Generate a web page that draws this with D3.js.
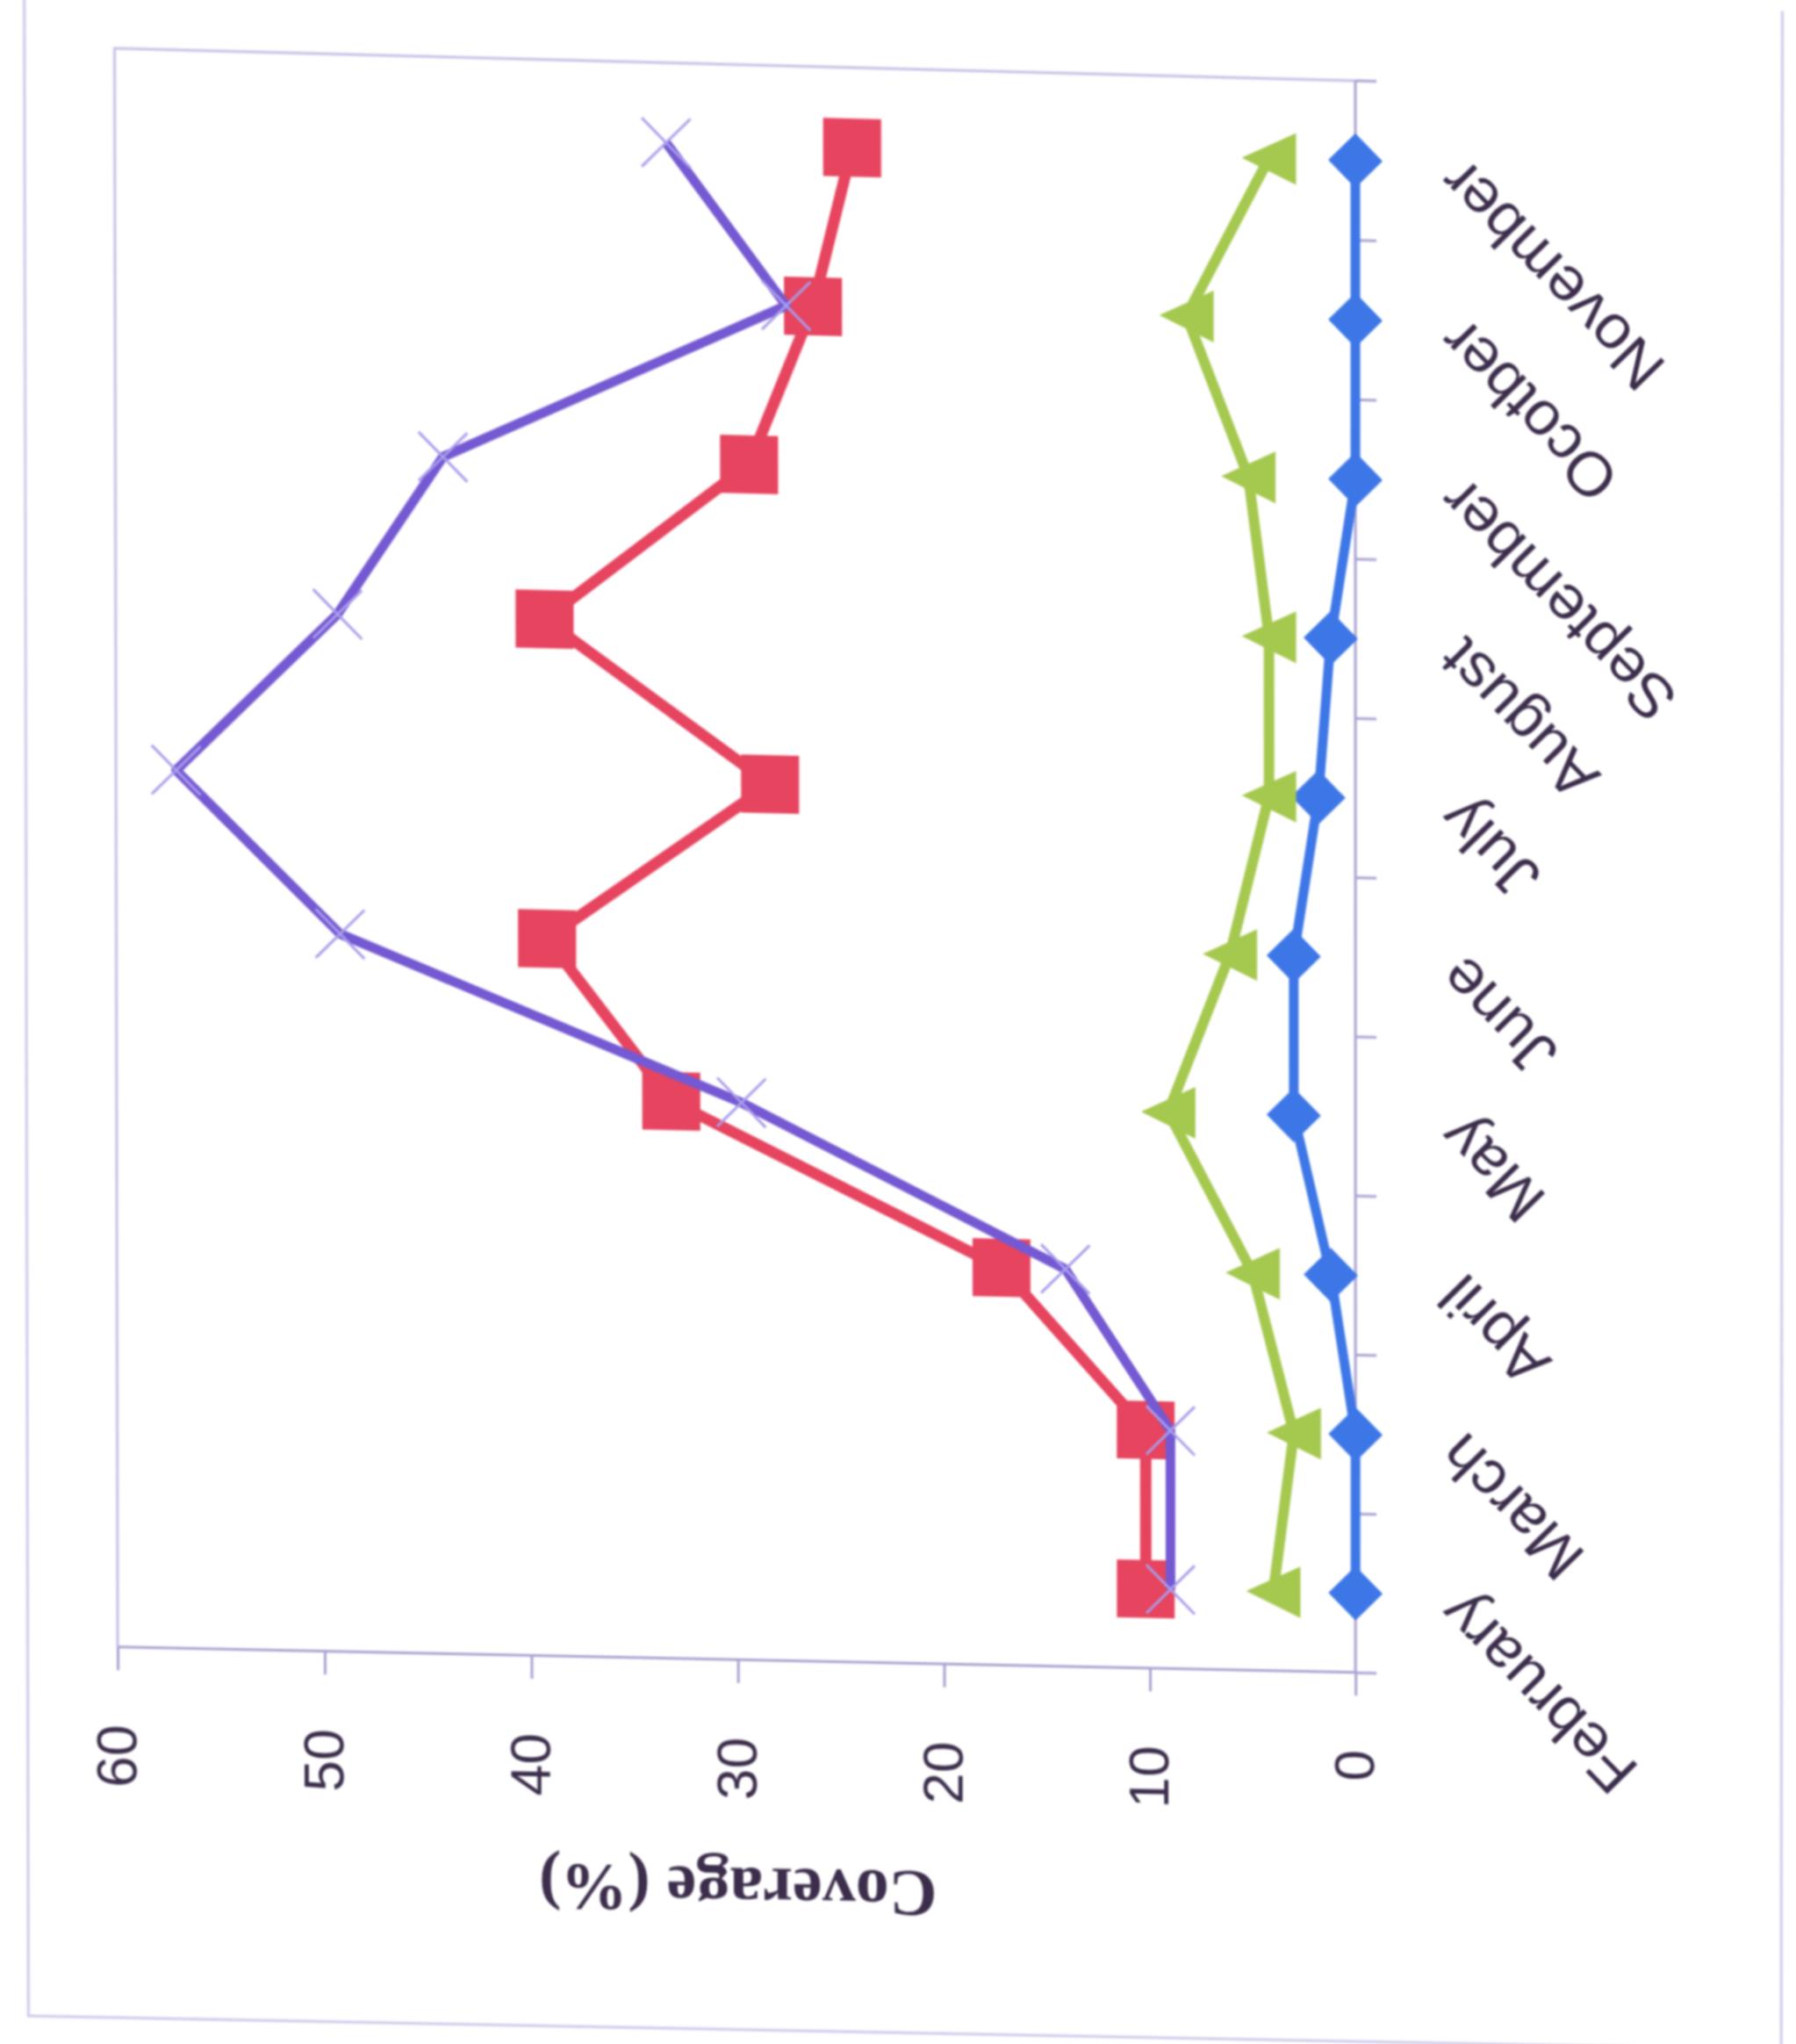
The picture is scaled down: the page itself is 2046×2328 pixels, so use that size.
<!DOCTYPE html>
<html>
<head>
<meta charset="utf-8">
<script src="https://cdn.jsdelivr.net/npm/d3@7"></script>
<style>
  html, body { margin: 0; padding: 0; background: #ffffff; }
  svg { display: block; transform-origin: 0 0; filter: blur(1.1px); }
</style>
</head>
<body>
<svg id="chart" width="2046" height="2328"></svg>
<script>
// Monthly coverage, four series
const months = ["February", "March", "April", "May", "June", "July", "August", "September", "Ocotber", "November"];
const valueTicks = [0, 10, 20, 30, 40, 50, 60];
const blueSeries   = [0, 0, 1.2, 3.0, 3.0, 1.8, 1.2, 0, 0, 0];
const redSeries    = [10.2, 10.2, 17.2, 33.2, 39.2, 28.4, 39.3, 29.4, 26.3, 24.4];
const greenSeries  = [4.0, 3.0, 5.0, 9.1, 6.1, 4.2, 4.2, 5.2, 8.2, 4.2];
const purpleSeries = [9.0, 9.0, 14.1, 29.8, 49.2, 57.1, 49.3, 44.2, 27.6, 33.4];
const axisTitle = "Coverage (%)";

const svg = d3.select("#chart");

// Plot size in the chart's own (months across, values up) frame
const W = 1813, H = 1410;
const x = d3.scaleBand().domain(months).range([0, W]);
const y = d3.scaleLinear().domain([0, 60]).range([H, 0]);
const cx = d => x(d) + x.bandwidth() / 2;

const textColor = "#3b2d4b";
const axisColor = "#a9a2d2";
const frameColor = "#c4bfe6";

// Chart area border
svg.append("rect")
  .attr("x", 32).attr("y", -60)
  .attr("width", 2000).attr("height", 2386)
  .attr("fill", "none").attr("stroke", "#cdc8ea").attr("stroke-width", 3);

// The chart is laid out sideways: months run upward, values run leftward
const g = svg.append("g").attr("transform", "translate(134,1905) rotate(-90)");

// Plot area border (the two sides without axes)
g.append("path")
  .attr("d", `M0,0L${W},0L${W},${H}`)
  .attr("fill", "none").attr("stroke", frameColor).attr("stroke-width", 3);

// Value axis
const yAxis = g.append("g")
  .call(d3.axisLeft(y).tickValues(valueTicks).tickSize(26).tickSizeOuter(0).tickPadding(62));
yAxis.select(".domain").attr("stroke", axisColor).attr("stroke-width", 3);
yAxis.selectAll(".tick line").attr("stroke", axisColor).attr("stroke-width", 3);
yAxis.selectAll(".tick text")
  .attr("fill", textColor)
  .style("font-family", "'Liberation Sans', Arial, sans-serif")
  .style("font-size", "64px");

// Category axis: line, tick marks between months, slanted labels
const xAxis = g.append("g").attr("transform", `translate(0,${H})`);
xAxis.append("line")
  .attr("x1", 0).attr("x2", W)
  .attr("stroke", axisColor).attr("stroke-width", 3);
const bounds = months.map(m => x(m)).concat([x.range()[1]]);
xAxis.selectAll("line.tick")
  .data(bounds)
  .join("line")
  .attr("class", "tick")
  .attr("x1", d => d).attr("x2", d => d)
  .attr("y1", 0).attr("y2", 24)
  .attr("stroke", axisColor).attr("stroke-width", 3);
xAxis.selectAll("text.month")
  .data(months)
  .join("text")
  .attr("class", "month")
  .attr("transform", d => `translate(${cx(d) + 8},${126}) rotate(-45)`)
  .attr("text-anchor", "end")
  .attr("fill", textColor)
  .style("font-family", "'Liberation Sans', Arial, sans-serif")
  .style("font-size", "71px")
  .text(d => d);

// Value axis title
g.append("text")
  .attr("transform", `translate(-262,${H / 2}) rotate(-90)`)
  .attr("text-anchor", "middle")
  .attr("dominant-baseline", "central")
  .attr("fill", textColor)
  .style("font-family", "'Liberation Serif', 'Times New Roman', serif")
  .style("font-weight", "bold")
  .style("font-size", "76px")
  .text(axisTitle);

// Marker shapes
const diamond = { draw(ctx, size) { const r = Math.sqrt(size) / 2; ctx.moveTo(0, -r); ctx.lineTo(r, 0); ctx.lineTo(0, r); ctx.lineTo(-r, 0); ctx.closePath(); } };
const triangle = { draw(ctx, size) { const h = Math.sqrt(size) / 2; const b = h * 0.95; ctx.moveTo(0, -h); ctx.lineTo(b, h); ctx.lineTo(-b, h); ctx.closePath(); } };

const line = d3.line().x((d, i) => cx(months[i])).y(d => y(d));

const series = [
  { values: blueSeries,   color: "#3d77e7", width: 11, symbol: d3.symbol(diamond, 62 * 62), fill: true },
  { values: redSeries,    color: "#e6445f", width: 13, symbol: d3.symbol(d3.symbolSquare, 66 * 66), fill: true },
  { values: greenSeries,  color: "#a5c84e", width: 12, symbol: d3.symbol(triangle, 62 * 62), fill: true },
  { values: purpleSeries, color: "#7559d2", width: 11, symbol: d3.symbol(d3.symbolX, 2000), fill: false, markColor: "#a99dec" }
];

series.forEach(s => {
  const sg = g.append("g");
  sg.append("path")
    .attr("d", line(s.values))
    .attr("fill", "none")
    .attr("stroke", s.color)
    .attr("stroke-width", s.width)
    .attr("stroke-linejoin", "round");
  sg.selectAll("path.mark")
    .data(s.values)
    .join("path")
    .attr("class", "mark")
    .attr("transform", (d, i) => `translate(${cx(months[i])},${y(d)})`)
    .attr("d", s.symbol())
    .attr("fill", s.fill ? s.color : "none")
    .attr("stroke", s.fill ? "none" : s.markColor)
    .attr("stroke-width", s.fill ? 0 : 3);
});

// Slight page tilt: projective map from the flat layout onto the sheet
function solve(A, b) {
  const n = b.length;
  const M = A.map((row, i) => row.concat([b[i]]));
  for (let c = 0; c < n; c++) {
    let p = c;
    for (let r = c + 1; r < n; r++) if (Math.abs(M[r][c]) > Math.abs(M[p][c])) p = r;
    [M[c], M[p]] = [M[p], M[c]];
    for (let r = 0; r < n; r++) {
      if (r === c) continue;
      const f = M[r][c] / M[c][c];
      for (let k = c; k <= n; k++) M[r][k] -= f * M[c][k];
    }
  }
  return M.map((row, i) => row[n] / row[i]);
}
function homography(src, dst) {
  const A = [], b = [];
  src.forEach(([sx, sy], i) => {
    const [u, v] = dst[i];
    A.push([sx, sy, 1, 0, 0, 0, -u * sx, -u * sy]); b.push(u);
    A.push([0, 0, 0, sx, sy, 1, -v * sx, -v * sy]); b.push(v);
  });
  return solve(A, b).concat([1]);
}
const h = homography(
  [[134, 92], [1544, 92], [134, 1905], [1544, 1905]],
  [[130.5, 55], [1544, 92], [134, 1876], [1544, 1905]]
);
document.getElementById("chart").style.transform =
  `matrix3d(${h[0]},${h[3]},0,${h[6]},${h[1]},${h[4]},0,${h[7]},0,0,1,0,${h[2]},${h[5]},0,${h[8]})`;
</script>
</body>
</html>
